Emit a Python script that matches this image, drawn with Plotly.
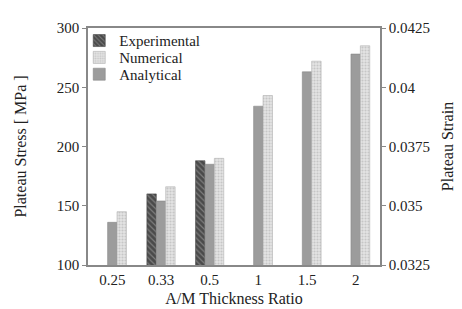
import plotly.graph_objects as go

categories = ["0.25", "0.33", "0.5", "1", "1.5", "2"]
experimental = [None, 160, 188, None, None, None]
analytical = [136, 154, 185, 234, 263, 278]
numerical = [145, 166, 190, 243, 272, 285]

strain_ticks = [0.0325, 0.035, 0.0375, 0.04, 0.0425]
strain_labels = ["0.0325", "0.035", "0.0375", "0.04", "0.0425"]
stress_ticks = [100, 150, 200, 250, 300]

font = "'Times New Roman', 'Liberation Serif', 'DejaVu Serif', serif"
tc = "#222222"

fig = go.Figure()
fig.add_trace(go.Bar(
    name="Experimental", x=categories, y=experimental, legend="legend",
    marker=dict(color="#5a5a5a",
                pattern=dict(shape="\\", fgcolor="#b0b0b0", bgcolor="#4a4a4a", size=4, solidity=0.3),
                line=dict(color="#444444", width=0.6)),
))
fig.add_trace(go.Bar(
    name="Analytical", x=categories, y=analytical, legend="legend3",
    marker=dict(color="#9c9c9c", line=dict(color="#888888", width=0.6)),
))
fig.add_trace(go.Bar(
    name="Numerical", x=categories, y=numerical, legend="legend2",
    marker=dict(color="#dcdcdc",
                pattern=dict(shape=".", fgcolor="#a8a8a8", bgcolor="#e4e4e4", size=3, solidity=0.4),
                line=dict(color="#b0b0b0", width=0.6)),
))
# right-hand axis carrier (no visible marks)
fig.add_trace(go.Scatter(x=categories[:1], y=[strain_ticks[0]], yaxis="y2", mode="markers",
                         marker=dict(opacity=0), showlegend=False, hoverinfo="skip"))

def leg(y):
    return dict(x=-0.03, y=y, xanchor="left", yanchor="middle", bgcolor="rgba(0,0,0,0)",
                font=dict(family=font, size=15, color=tc), itemwidth=30)

fig.update_layout(
    width=462, height=309,
    margin=dict(l=80, r=90, t=17, b=51),
    paper_bgcolor="white", plot_bgcolor="white",
    barmode="group", bargap=0.42, bargroupgap=0,
    font=dict(family=font, size=15, color=tc),
    showlegend=True,
    legend=leg(0.946), legend2=leg(0.875), legend3=leg(0.804),
    xaxis=dict(type="category", showline=True, linecolor="#888888", linewidth=1.5,
               mirror=True, ticks="", showgrid=False,
               title=dict(text="A/M Thickness Ratio", font=dict(family=font, size=16), standoff=6),
               tickfont=dict(family=font, size=15)),
    yaxis=dict(range=[100, 300], tickvals=stress_ticks, showline=True, linecolor="#888888",
               linewidth=1.5, ticks="outside", ticklen=4, tickcolor="#888888", showgrid=False,
               title=dict(text="Plateau Stress [ MPa ]", font=dict(family=font, size=16), standoff=26),
               tickfont=dict(family=font, size=15)),
    yaxis2=dict(range=[0.0325, 0.0425], tickvals=strain_ticks, ticktext=strain_labels,
                overlaying="y", side="right", showline=True, linecolor="#888888", linewidth=1.5,
                ticks="outside", ticklen=4, tickcolor="#888888", showgrid=False,
                title=dict(text="Plateau Strain", font=dict(family=font, size=16), standoff=13),
                tickfont=dict(family=font, size=15)),
)

fig.write_html("out.html")
